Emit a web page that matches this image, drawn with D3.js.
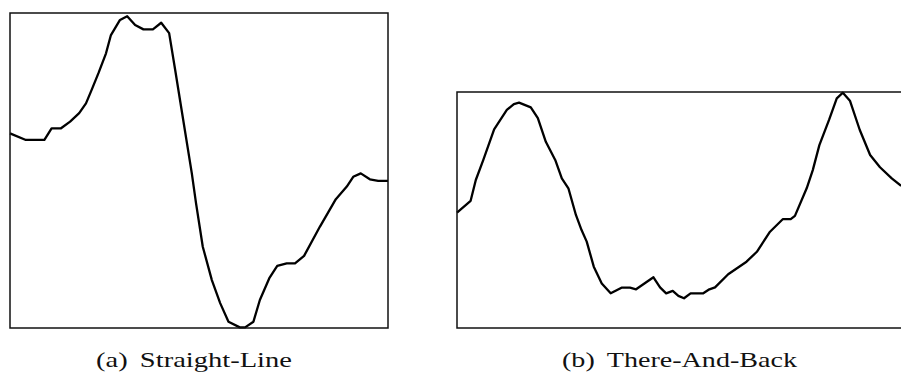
<!DOCTYPE html>
<html>
<head>
<meta charset="utf-8">
<script src="https://cdn.jsdelivr.net/npm/d3@7"></script>
<style>
  body { margin: 0; background: #fff; }
  svg { display: block; }
</style>
</head>
<body>
<div id="chart"></div>
<script>
// panel (a): position along path (0-100) and height (0-100)
const straightX = [0, 4.2, 9.1, 11.0, 13.5, 15.9, 18.3, 20.1, 21.6, 23.4, 25.4, 26.7, 29.1, 31.0, 33.1, 35.3, 37.8, 40.0, 42.1, 43.7, 45.4, 48.1, 49.2, 51.0, 53.4, 55.6, 57.8, 60.8, 62.2, 64.4, 66.1, 68.6, 70.7, 73.2, 75.4, 77.8, 82.0, 86.2, 89.1, 90.8, 92.8, 95.2, 97.4, 100];
const straightY = [61.8, 59.7, 59.7, 63.4, 63.4, 65.5, 68.2, 71.3, 75.6, 80.9, 87.2, 93.0, 97.8, 99.0, 96.2, 94.8, 94.8, 96.9, 93.6, 81.9, 69.2, 49.1, 39.7, 25.8, 15.2, 7.9, 2.0, 0.2, 0.2, 2.0, 8.9, 15.8, 19.7, 20.5, 20.5, 22.9, 32.2, 40.9, 44.9, 48.0, 49.1, 47.2, 46.7, 46.7];

// panel (b)
const backX = [0, 2.9, 4.0, 5.6, 7.9, 10.6, 12.1, 13.2, 15.7, 17.2, 18.9, 20.9, 22.3, 23.7, 25.3, 26.5, 27.6, 29.1, 30.8, 32.7, 35.0, 36.8, 38.1, 41.8, 43.2, 44.5, 45.9, 47.1, 48.3, 49.7, 52.4, 53.7, 54.9, 57.7, 61.6, 63.8, 66.6, 69.3, 71.0, 71.9, 74.4, 75.7, 77.1, 79.2, 80.8, 82.1, 83.6, 85.7, 87.9, 90.0, 92.5, 94.5];
const backY = [48.9, 53.9, 62.7, 71.2, 84.2, 92.4, 94.9, 95.5, 93.5, 88.9, 78.9, 71.2, 63.4, 59.2, 47.9, 41.5, 36.6, 26.0, 18.9, 14.7, 17.1, 17.1, 16.4, 21.5, 17.2, 14.7, 15.7, 13.6, 12.6, 14.7, 14.7, 16.4, 17.2, 22.8, 28.1, 32.3, 40.8, 46.1, 46.1, 47.5, 59.2, 66.9, 77.5, 88.4, 97.3, 99.7, 96.3, 83.9, 73.3, 68.1, 63.4, 60.2];

const captions = ['(a)', 'Straight-Line', '(b)', 'There-And-Back'];

const svg = d3.select('#chart').append('svg')
  .attr('width', 901)
  .attr('height', 372);

const panels = [
  { x: 10, y: 13, w: 378, h: 315, xs: straightX, ys: straightY, tag: captions[0], label: captions[1], tx: 96, tw: 196 },
  { x: 457, y: 92, w: 446, h: 236, xs: backX, ys: backY, tag: captions[2], label: captions[3], tx: 562, tw: 235 }
];

panels.forEach((p, i) => {
  const g = svg.append('g').attr('transform', `translate(${p.x},${p.y})`);

  const x = d3.scaleLinear().domain([0, 100]).range([0, i === 0 ? p.w : 470]);
  const y = d3.scaleLinear().domain([0, 100]).range([p.h, 0]);

  const pts = p.xs.map((v, k) => [v, p.ys[k]]);

  g.append('path')
    .datum(pts)
    .attr('fill', 'none')
    .attr('stroke', '#000')
    .attr('stroke-width', 2.3)
    .attr('stroke-linejoin', 'round')
    .attr('d', d3.line().x(d => x(d[0])).y(d => y(d[1])));

  g.append('rect')
    .attr('width', p.w)
    .attr('height', p.h)
    .attr('fill', 'none')
    .attr('stroke', '#111')
    .attr('stroke-width', 1.5);

  const t = svg.append('text')
    .attr('x', p.tx)
    .attr('y', 367)
    .attr('font-family', '"Liberation Serif", "DejaVu Serif", serif')
    .attr('font-size', 21)
    .attr('fill', '#111')
    .attr('textLength', p.tw)
    .attr('lengthAdjust', 'spacingAndGlyphs');
  t.append('tspan').text(p.tag);
  t.append('tspan').attr('dx', 9).text(p.label);
});
</script>
</body>
</html>
